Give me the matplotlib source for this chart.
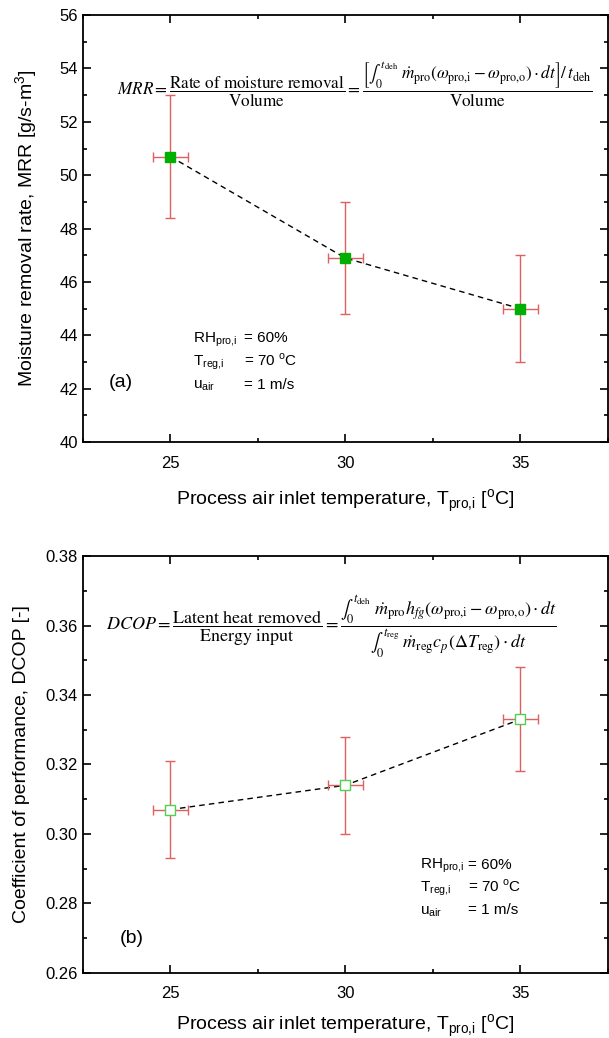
import matplotlib
matplotlib.use('Agg')
import matplotlib.pyplot as plt
from matplotlib.ticker import MultipleLocator, FormatStrFormatter

plt.rcParams['font.family'] = ['Liberation Sans', 'DejaVu Sans']

# data
temp = [25, 30, 35]
temp_err = [0.5, 0.5, 0.5]
mrr = [50.7, 46.9, 45.0]
mrr_err = [2.3, 2.1, 2.0]
dcop = [0.307, 0.314, 0.333]
dcop_err = [0.014, 0.014, 0.015]

red = '#e06060'
green = '#00b000'
lgreen = '#50d050'

fig = plt.figure(figsize=(6.09, 10.38), dpi=100)
ax1 = fig.add_axes([0.136, 0.574, 0.862, 0.4115])
ax2 = fig.add_axes([0.136, 0.063, 0.862, 0.401])

xlab = 'Process air inlet temperature, T$_\\mathregular{pro{,}i}$ [$^\\mathregular{o}$C]'

def style(ax):
    ax.set_xlim(22.5, 37.5)
    ax.set_xticks([25, 30, 35])
    ax.xaxis.set_minor_locator(MultipleLocator(2.5))
    ax.tick_params(which='both', direction='in', top=True, right=True,
                   labelsize=12, width=1.2)
    ax.tick_params(which='major', length=6)
    ax.tick_params(which='minor', length=3)
    ax.tick_params(axis='x', pad=10)
    for s in ax.spines.values():
        s.set_linewidth(1.3)

def notes(ax, x0, x1, y0):
    lab = ['RH$_\\mathregular{pro{,}i}$', 'T$_\\mathregular{reg{,}i}$', 'u$_\\mathregular{air}$']
    val = ['= 60%', '= 70 $^\\mathregular{o}$C', '= 1 m/s']
    for k in range(3):
        y = y0 - 0.055 * k
        ax.text(x0, y, lab[k], transform=ax.transAxes, fontsize=11)
        ax.text(x1, y, val[k], transform=ax.transAxes, fontsize=11)

# (a) MRR
ax1.plot(temp, mrr, 'k--', lw=1, dashes=(4, 3), zorder=2)
ax1.errorbar(temp, mrr, yerr=mrr_err, xerr=temp_err, fmt='none',
             ecolor=red, elinewidth=1, capsize=3.5, capthick=1, zorder=3)
ax1.plot(temp, mrr, 's', ms=7, color=green, mec=green, zorder=4)
ax1.set_ylim(40, 56)
ax1.yaxis.set_major_locator(MultipleLocator(2))
ax1.yaxis.set_minor_locator(MultipleLocator(1))
style(ax1)
ax1.set_ylabel('Moisture removal rate, MRR [g/s-m$^\\mathregular{3}$]', fontsize=14, labelpad=14)
ax1.set_xlabel(xlab, fontsize=14, labelpad=12)

eq1 = (r'$MRR = \dfrac{\mathrm{Rate\ of\ moisture\ removal}}{\mathrm{Volume}}'
       r' = \dfrac{\left[\int_0^{t_\mathrm{deh}}\ \dot{m}_\mathrm{pro}\left(\omega_\mathrm{pro{,}i}'
       r' - \omega_\mathrm{pro{,}o}\right)\cdot dt\right] / \,t_\mathrm{deh}}{\mathrm{Volume}}$')
ax1.text(0.065, 0.838, eq1, transform=ax1.transAxes, fontsize=12.3,
         math_fontfamily='stix', va='center', ha='left')

ax1.text(0.05, 0.13, '(a)', transform=ax1.transAxes, fontsize=14)
notes(ax1, 0.21, 0.307, 0.235)

# (b) DCOP
ax2.plot(temp, dcop, 'k--', lw=1, dashes=(4, 3), zorder=2)
ax2.errorbar(temp, dcop, yerr=dcop_err, xerr=temp_err, fmt='none',
             ecolor=red, elinewidth=1, capsize=3.5, capthick=1, zorder=3)
ax2.plot(temp, dcop, 's', ms=7, mfc='white', mec=lgreen, mew=1, zorder=4)
ax2.set_ylim(0.26, 0.38)
ax2.yaxis.set_major_locator(MultipleLocator(0.02))
ax2.yaxis.set_minor_locator(MultipleLocator(0.01))
ax2.yaxis.set_major_formatter(FormatStrFormatter('%.2f'))
style(ax2)
ax2.set_ylabel('Coefficient of performance, DCOP [-]', fontsize=14, labelpad=11)
ax2.set_xlabel(xlab, fontsize=14, labelpad=8)

eq2 = (r'$DCOP = \dfrac{\mathrm{Latent\ heat\ removed}}{\mathrm{Energy\ input}}'
       r' = \dfrac{\int_0^{t_\mathrm{deh}}\ \dot{m}_\mathrm{pro}h_{fg}\left(\omega_\mathrm{pro{,}i}'
       r' - \omega_\mathrm{pro{,}o}\right)\cdot dt}'
       r'{\int_0^{t_\mathrm{reg}}\ \dot{m}_\mathrm{reg}c_p\left(\Delta T_\mathrm{reg}\right)\cdot dt}$')
ax2.text(0.045, 0.83, eq2, transform=ax2.transAxes, fontsize=13,
         math_fontfamily='stix', va='center', ha='left')

ax2.text(0.07, 0.07, '(b)', transform=ax2.transAxes, fontsize=14)
notes(ax2, 0.642, 0.733, 0.25)

fig.savefig('out.png', dpi=100)
